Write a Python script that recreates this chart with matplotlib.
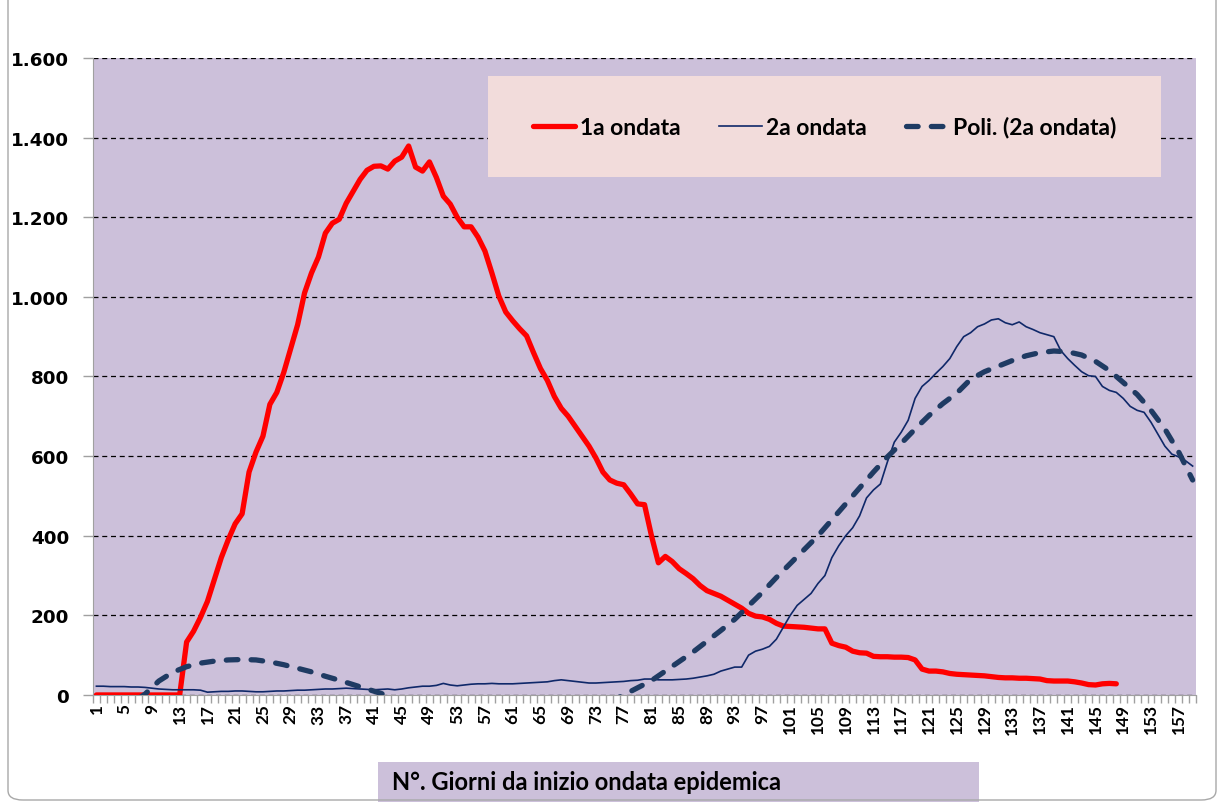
import numpy as np
import matplotlib
matplotlib.use("Agg")
import matplotlib.pyplot as plt
from matplotlib.patches import Rectangle, FancyBboxPatch
from matplotlib.ticker import FuncFormatter, FixedLocator

# 1a ondata: giorni 1..148
ondata1 = [0, 0, 0, 0, 0, 0, 0, 0, 0, 0, 0, 0, 0, 133, 160, 195, 235, 290, 345, 390,
           430, 455, 560, 610, 650, 730, 760, 810, 870, 930, 1010, 1060, 1100, 1160, 1185, 1195, 1235, 1265, 1295, 1318,
           1328, 1329, 1321, 1341, 1351, 1379, 1326, 1316, 1339, 1300, 1253, 1233, 1200, 1176, 1176, 1150, 1115, 1060, 1002, 962,
           940, 920, 902, 860, 820, 790, 750, 720, 700, 675, 650, 625, 595, 560, 540, 532, 528, 505, 480, 478,
           400, 332, 348, 335, 317, 305, 292, 275, 262, 255, 248, 238, 228, 218, 205, 198, 196, 190, 180, 173,
           172, 171, 170, 168, 166, 166, 130, 124, 120, 110, 106, 105, 97, 96, 96, 95, 95, 94, 88, 65,
           60, 60, 58, 54, 52, 51, 50, 49, 48, 46, 44, 43, 43, 42, 42, 41, 40, 36, 35, 35,
           35, 33, 30, 26, 25, 28, 29, 28]

# 2a ondata: giorni 1..159
ondata2 = [22, 22, 21, 21, 21, 20, 20, 19, 17, 15, 14, 13, 13, 13, 13, 12, 7, 8, 9, 9,
           10, 10, 9, 8, 8, 9, 10, 10, 11, 12, 12, 13, 14, 15, 15, 16, 17, 16, 15, 14,
           13, 14, 15, 13, 15, 18, 20, 22, 22, 24, 29, 25, 23, 25, 27, 28, 28, 29, 28, 28,
           28, 29, 30, 31, 32, 33, 36, 38, 36, 34, 32, 30, 30, 31, 32, 33, 34, 36, 37, 40,
           40, 38, 38, 38, 39, 40, 42, 45, 48, 52, 60, 65, 70, 70, 100, 110, 115, 122, 140, 170,
           200, 225, 240, 255, 280, 300, 345, 375, 400, 420, 450, 495, 515, 530, 585, 635, 660, 690, 745, 775,
           790, 808, 825, 845, 875, 900, 910, 925, 932, 942, 945, 935, 930, 937, 925, 918, 910, 905, 900, 865,
           845, 828, 812, 802, 800, 775, 765, 760, 745, 725, 715, 710, 685, 655, 625, 605, 598, 588, 575]

# linea di tendenza "Poli. (2a ondata)" (parte visibile sopra lo zero)
trend_giorni_a = [7, 8, 10, 12, 14, 16, 18, 20, 22, 24, 26, 28, 30, 32, 34, 36, 38, 40, 42, 44]
trend_valori_a = [-10, 2, 35, 57, 71, 80, 85, 88, 89, 88, 83, 76, 67, 58, 47, 37, 26, 15, 4, -8]
trend_giorni_b = [75, 77, 79, 81, 83, 85, 87, 89, 91, 93, 95, 97, 99, 101, 103, 105, 107, 109, 111, 113,
                  115, 117, 119, 121, 123, 125, 127, 129, 131, 133, 135, 137, 139, 141, 143, 145, 147, 149, 151, 153,
                  155, 157, 159]
trend_valori_b = [-18, 0, 18, 36, 60, 84, 108, 135, 162, 190, 224, 258, 295, 330, 365, 400, 440, 480, 520, 560,
                  598, 632, 668, 702, 732, 758, 793, 812, 826, 840, 852, 860, 864, 862, 854, 838, 815, 785, 755, 715,
                  668, 610, 540]

giorni1 = np.arange(1, len(ondata1) + 1)
giorni2 = np.arange(1, len(ondata2) + 1)
n_cat = len(ondata2)

trend_x = trend_giorni_a + [np.nan] + trend_giorni_b
trend_y = trend_valori_a + [np.nan] + trend_valori_b

viola = "#CCC0DA"
rosa = "#F2DCDB"

fig = plt.figure(figsize=(12.23, 8.03), dpi=100)
ax = fig.add_axes([0.076, 0.1333, 0.902, 0.7932])
ax.set_facecolor(viola)

ax.plot(giorni1, ondata1, color="#FF0000", lw=3.8, solid_capstyle="round", solid_joinstyle="round",
        label="1a ondata", zorder=3)
ax.plot(giorni2, ondata2, color="#0F2869", lw=1.2, label="2a ondata", zorder=3)
ax.plot(trend_x, trend_y, color="#1F3B63", lw=3.8, ls=(0, (2.2, 2.5)), dash_capstyle="round",
        label="Poli. (2a ondata)", zorder=4)

ax.set_xlim(0.5, n_cat + 0.5)
ax.set_ylim(0, 1600)
ax.set_yticks(np.arange(0, 1601, 200))
ax.yaxis.set_major_formatter(FuncFormatter(lambda v, p: f"{int(v):,}".replace(",", ".")))
ax.grid(axis="y", color="black", ls=(0, (4, 3)), lw=0.9)
ax.set_axisbelow(True)

ax.set_xticks(np.arange(1, n_cat + 1, 4))
ax.xaxis.set_minor_locator(FixedLocator(np.arange(0.5, n_cat + 1, 1)))
ax.tick_params(axis="x", which="major", length=0, pad=6, labelrotation=90)
ax.tick_params(axis="x", which="minor", length=6, color="#A0A0A0", width=1)
ax.tick_params(axis="y", length=7, color="#A0A0A0", width=1, pad=10)
for lab in ax.get_xticklabels():
    lab.set_fontfamily("Lato")
    lab.set_fontweight("bold")
    lab.set_fontsize(12.4)
for lab in ax.get_yticklabels():
    lab.set_fontfamily("DejaVu Sans")
    lab.set_fontweight("bold")
    lab.set_fontsize(13.2)

for s in ["top", "right"]:
    ax.spines[s].set_visible(False)
ax.spines["left"].set_color("#A0A0A0")
ax.spines["bottom"].set_color("#A0A0A0")

# riquadro legenda
W, H = 1223.0, 803.0
leg_box = Rectangle((488 / W, 1 - 178 / H), (1161 - 488) / W, (178 - 77) / H,
                    transform=fig.transFigure, facecolor=rosa, edgecolor="none", zorder=5)
ax.add_artist(leg_box)
leg = ax.legend(loc="center", bbox_to_anchor=((488 + 1161) / 2 / W, 1 - 128 / H),
                bbox_transform=fig.transFigure, ncol=3, frameon=False, handlelength=1.85,
                handletextpad=0.2, columnspacing=1.7,
                prop={"family": "Lato", "weight": "bold", "size": 16.5})
leg.set_zorder(6)

# riquadro titolo asse x
fig.patches.append(Rectangle((378 / W, 0), (979 - 378) / W, (803 - 763) / H,
                             transform=fig.transFigure, facecolor=viola, edgecolor="none"))
fig.text(392 / W, 1 - 783 / H, "N°. Giorni da inizio ondata epidemica", fontfamily="Lato",
         fontweight="bold", fontsize=17, va="center", ha="left")

# bordo dell'area grafico
fig.patches.append(FancyBboxPatch((8 / W, 2 / H), (1216 - 8) / W, 1.2, boxstyle="round,pad=0,rounding_size=0.012",
                                  transform=fig.transFigure, facecolor="none", edgecolor="#A8A8A8", lw=1))

fig.savefig("out.png", dpi=100)
